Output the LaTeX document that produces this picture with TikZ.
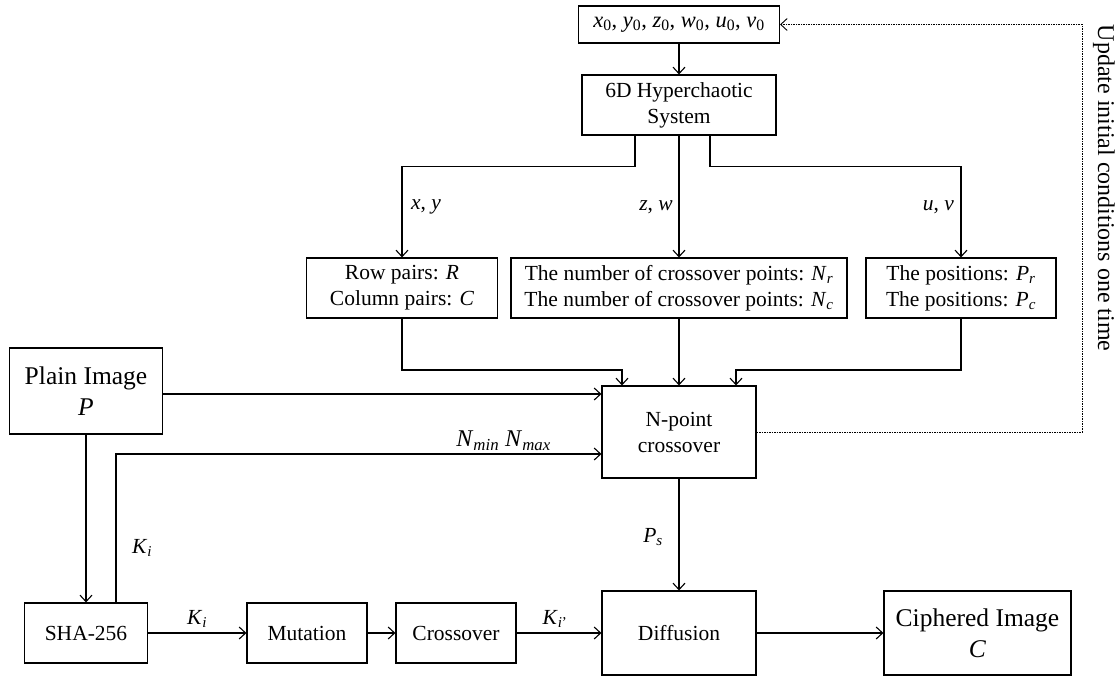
\documentclass[tikz,border=0pt]{standalone}
\usepackage{fontspec}
\setmainfont{Liberation Serif}
\usetikzlibrary{arrows.meta,calc}
\newcommand{\isub}[2]{\textit{#1}\textsubscript{\textit{#2}}}
\newcommand{\rsub}[2]{\textit{#1}\textsubscript{#2}}
\begin{document}
\begin{tikzpicture}[x=1pt,y=-1pt,
 box/.style={draw, line width=1.1pt, align=center, inner sep=2pt, font=\fontsize{21.5}{26}\selectfont},
 big/.style={box, font=\fontsize{25.5}{31}\selectfont},
 arr/.style={line width=1.1pt, -{Straight Barb[length=6.5pt,width=12pt,line width=1.1pt]}},
 lbl/.style={inner sep=1pt, font=\fontsize{21.5}{25}\selectfont},
 fb/.style={line width=0.9pt, dash pattern=on 1.5pt off 1pt}
]
\useasboundingbox (0,0) rectangle (1118,676);

\node[box, minimum width=201pt, minimum height=37pt, font=\fontsize{22.5}{26}\selectfont] (top) at (679,24.5)
  {\rsub{x}{0}, \rsub{y}{0}, \rsub{z}{0}, \rsub{w}{0}, \rsub{u}{0}, \rsub{v}{0}};
\node[box, minimum width=194pt, minimum height=60pt] (sixd) at (679,105) {6D Hyperchaotic\\System};
\node[box, minimum width=191pt, minimum height=60pt] (rowp) at (402,288) {Row pairs: \textit{R}\\Column pairs: \textit{C}};
\node[box, minimum width=336pt, minimum height=60pt] (numb) at (679,288)
  {The number of crossover points: \isub{N}{r}\\The number of crossover points: \isub{N}{c}};
\node[box, minimum width=190pt, minimum height=60pt] (posi) at (961,288) {The positions: \isub{P}{r}\\The positions: \isub{P}{c}};
\node[big, minimum width=153pt, minimum height=86pt] (plain) at (86,391) {Plain Image\\\textit{P}};
\node[box, minimum width=154pt, minimum height=92pt] (npt) at (679,432) {N-point\\crossover};
\node[box, minimum width=123pt, minimum height=60pt] (sha) at (86,633) {SHA-256};
\node[box, minimum width=120pt, minimum height=60pt] (mut) at (307,633) {Mutation};
\node[box, minimum width=120pt, minimum height=60pt] (cro) at (456,633) {Crossover};
\node[box, minimum width=154pt, minimum height=84pt] (dif) at (679,633) {Diffusion};
\node[big, minimum width=187pt, minimum height=84pt] (cip) at (977.5,633) {Ciphered Image\\\textit{C}};

% top part
\draw[arr] (top) -- (sixd);
\draw[arr] ([xshift=-44pt]sixd.south) -- ++(0,31) -| (rowp.north);
\draw[arr] (sixd) -- (numb);
\draw[arr] ([xshift=31pt]sixd.south) -- ++(0,31) -| (posi.north);
\node[lbl, anchor=west] (lxy) at (410,207) {\textit{x}, \textit{y}};
\node[lbl, anchor=east] (lzw) at (674,207) {\textit{z}, \textit{w}};
\node[lbl, anchor=east] (luv) at (955,207) {\textit{u}, \textit{v}};

% into N-point
\draw[arr] (rowp.south) -- (rowp.south |- 0,370) -| ([xshift=-57pt]npt.north);
\draw[arr] (numb) -- (npt);
\draw[arr] (posi.south) -- (posi.south |- 0,370) -| ([xshift=57pt]npt.north);
\draw[arr] ([yshift=-3pt]plain.east) -- ([yshift=-3pt]plain.east -| npt.west);
\draw[arr] ([xshift=30pt]sha.north) |- ([yshift=-22pt]npt.west);
\node[lbl, anchor=south east, font=\fontsize{24}{28}\selectfont] (lnm) at (552,452) {\isub{N}{min} \isub{N}{max}};
\node[lbl, anchor=west] (lki) at (131,548) {\isub{K}{i}};

% bottom row
\draw[arr] (plain) -- (sha);
\draw[arr] (sha) -- (mut);
\draw[arr] (mut) -- (cro);
\draw[arr] (cro) -- (dif);
\draw[arr] (dif) -- (cip);
\draw[arr] (npt) -- (dif);
\node[lbl, anchor=south] (lki2) at (197,629) {\isub{K}{i}};
\node[lbl, anchor=south] (lki3) at (555,629) {\textit{K}\textsubscript{\textit{i}'}};
\node[lbl, anchor=east] (lps) at (664,537) {\isub{P}{s}};

% feedback
\coordinate (turn) at (1082,432);
\draw[fb, -{Straight Barb[length=6.5pt,width=12pt,line width=0.9pt]}] (npt.east) -- (turn) |- (top.east);
\node[rotate=-90, font=\fontsize{24}{28}\selectfont] (upd) at (1104,188) {Update initial conditions one time};
\end{tikzpicture}
\end{document}
